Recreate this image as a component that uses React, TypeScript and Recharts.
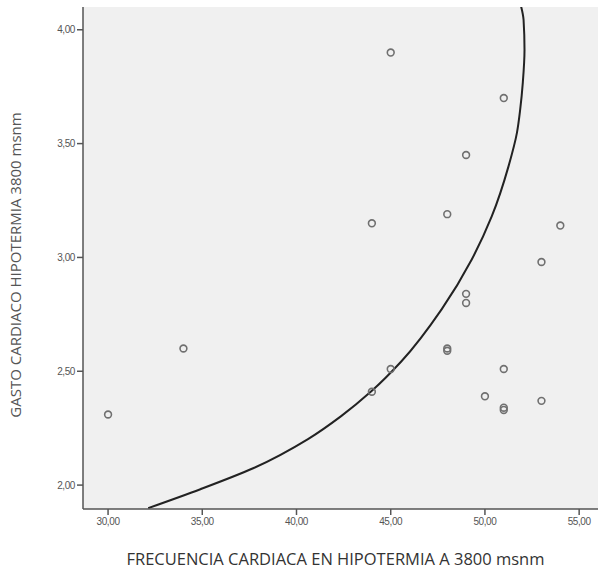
import React from "react";
import {
  ComposedChart,
  Scatter,
  Line,
  XAxis,
  YAxis,
  CartesianGrid,
  Label,
} from "recharts";

// heart rate (x) and cardiac output (y) for each subject
const frecuencia = [30, 34, 44, 44, 45, 45, 48, 48, 48, 49, 49, 49, 50, 51, 51, 51, 51, 53, 53, 54];
const gasto = [2.31, 2.6, 3.15, 2.41, 3.9, 2.51, 3.19, 2.6, 2.59, 3.45, 2.84, 2.8, 2.39, 3.7, 2.51, 2.34, 2.33, 2.98, 2.37, 3.14];

// fitted curve, traced point by point (y always rising)
const curvaX = [32.13, 34.9, 37.73, 40.61, 42.37, 43.97, 45.57, 47.7, 49.3, 50.36, 51.25, 51.7, 51.87, 52.01, 52.1, 52.05, 51.92];
const curvaY = [1.899, 1.982, 2.075, 2.202, 2.303, 2.412, 2.544, 2.772, 2.991, 3.18, 3.4, 3.548, 3.649, 3.768, 3.912, 4.044, 4.102];

const xTicks = [30, 35, 40, 45, 50, 55];
const yTicks = [2, 2.5, 3, 3.5, 4];

const puntos = frecuencia.map((x, i) => ({ x, y: gasto[i] }));
const curva = curvaX.map((x, i) => ({ x, y: curvaY[i] }));

const fmt = (v: number) => v.toFixed(2).replace(".", ",");

const tickStyle = { fontSize: 10, fill: "#555", fontFamily: "Liberation Sans, Arial, sans-serif", letterSpacing: -0.4 };

const Circulo = (props: any) => (
  <circle cx={props.cx} cy={props.cy} r={3.4} fill="none" stroke="#707070" strokeWidth={1.6} />
);

const YTitle = () => (
  <text
    x={17}
    y={265}
    transform="rotate(-90 17 265)"
    textAnchor="middle"
    dominantBaseline="middle"
    fontSize={15}
    fill="#555"
    fontFamily="Open Sans, sans-serif"
  >
    GASTO CARDIACO HIPOTERMIA 3800 msnm
  </text>
);

export default function App() {
  return (
    <div>
      <style>{`body{margin:0;background:#fff}`}</style>
      <ComposedChart width={598} height={575} margin={{ top: 7, right: 0, left: 0, bottom: 0 }}>
        <CartesianGrid fill="#f0f0f0" stroke="none" horizontal={false} vertical={false} />
        <XAxis
          type="number"
          dataKey="x"
          domain={[28.67, 56.0]}
          ticks={xTicks}
          tickFormatter={fmt}
          allowDataOverflow
          height={66}
          tickSize={6}
          tickMargin={3}
          tick={tickStyle}
          stroke="#555"
          strokeWidth={1.5}
        >
          <Label
            value="FRECUENCIA CARDIACA EN HIPOTERMIA A 3800 msnm"
            position="insideBottom"
            offset={10}
            dx={-5}
            style={{ fontSize: 16.5, fill: "#333", fontFamily: "Open Sans, sans-serif" }}
          />
        </XAxis>
        <YAxis
          type="number"
          dataKey="y"
          domain={[1.895, 4.1]}
          ticks={yTicks}
          tickFormatter={fmt}
          allowDataOverflow
          width={83}
          tickSize={6}
          tickMargin={2}
          tick={tickStyle}
          stroke="#555"
          strokeWidth={1.5}
        >
          <Label content={<YTitle />} />
        </YAxis>
        <Scatter data={puntos} dataKey="y" shape={<Circulo />} isAnimationActive={false} />
        <Line
          data={curva}
          dataKey="y"
          type="monotoneY"
          stroke="#222"
          strokeWidth={2}
          dot={false}
          activeDot={false}
          isAnimationActive={false}
        />
      </ComposedChart>
    </div>
  );
}
